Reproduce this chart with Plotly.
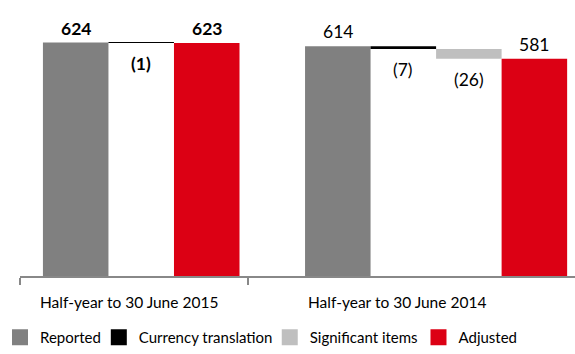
import plotly.graph_objects as go

# Waterfall bridges from reported to adjusted figures
periods = ["Half-year to 30 June 2015", "Half-year to 30 June 2014"]
steps_2015 = ["Reported", "Currency translation", "Adjusted"]
values_2015 = [624, -1, 623]
steps_2014 = ["Reported", "Currency translation", "Significant items", "Adjusted"]
values_2014 = [614, -7, -26, 581]

legend_items = ["Reported", "Currency translation", "Significant items", "Adjusted"]
colors = {
    "Reported": "#808080",
    "Currency translation": "#000000",
    "Significant items": "#bfbfbf",
    "Adjusted": "#dc0014",
}
totals = {"Reported", "Adjusted"}

FONT = "Lato, 'Open Sans', sans-serif"

# Slot layout: one column per step, an empty slot between the two periods
blocks = [(steps_2015, values_2015, True, 0), (steps_2014, values_2014, False, 4)]

bars = {k: {"x": [], "y": [], "base": []} for k in legend_items}
annotations = []
for steps, values, bold, start in blocks:
    running = 0
    for i, (step, val) in enumerate(zip(steps, values)):
        xpos = start + i
        if step in totals:
            base, height = 0, val
            running = val
            label = f"{val:,}"
            y_lab, anchor, shift = val, "bottom", 2
        else:
            base, height = running + val, -val
            running = running + val
            label = f"({-val:,})"
            y_lab, anchor, shift = base, "top", -8
        bars[step]["x"].append(xpos)
        bars[step]["y"].append(height)
        bars[step]["base"].append(base)
        txt = f"<b>{label}</b>" if bold else label
        annotations.append(dict(
            x=xpos, y=y_lab, xref="x", yref="y", text=txt, showarrow=False,
            yanchor=anchor, yshift=shift,
            font=dict(family=FONT, size=17.5, color="#000000"),
        ))

fig = go.Figure()
for step in legend_items:
    fig.add_trace(go.Bar(
        x=bars[step]["x"], y=bars[step]["y"], base=bars[step]["base"],
        width=1, marker=dict(color=colors[step], line=dict(width=0)),
        showlegend=False, hoverinfo="skip",
    ))

# One legend box per swatch so each entry sits at its own spot
legend_names = ["legend", "legend2", "legend3", "legend4"]
legend_x = [-0.036, 0.142, 0.45, 0.718]
legend_cfg = {}
for step, lname, lx in zip(legend_items, legend_names, legend_x):
    fig.add_trace(go.Scatter(
        x=[None], y=[None], mode="markers", name=step, legend=lname,
        marker=dict(symbol="square", size=16, color=colors[step]),
    ))
    legend_cfg[lname] = dict(
        orientation="h", x=lx, xanchor="left", y=-0.232, yanchor="middle",
        itemsizing="trace", font=dict(family=FONT, size=15, color="#000000"),
        itemclick=False, bgcolor="rgba(0,0,0,0)",
    )

# Period labels under the axis
for label, xc in zip(periods, [0.81, 4.9]):
    annotations.append(dict(
        x=xc, y=0, xref="x", yref="paper", text=label, showarrow=False,
        yanchor="middle", yshift=-26,
        font=dict(family=FONT, size=15.5, color="#000000"),
    ))

fig.update_layout(
    width=575, height=354,
    margin=dict(l=18, r=0, t=10, b=72),
    paper_bgcolor="white", plot_bgcolor="white",
    barmode="overlay",
    showlegend=True,
    annotations=annotations,
    xaxis=dict(
        range=[-0.85, 7.62], showgrid=False, zeroline=False,
        showline=True, linecolor="#888888", linewidth=1.5,
        tickmode="array", tickvals=[-0.849, 2.63], ticks="outside",
        ticklen=7, tickcolor="#888888", tickwidth=1.5, showticklabels=False,
        fixedrange=True,
    ),
    yaxis=dict(
        range=[0, 711], visible=False, showgrid=False, zeroline=False,
        fixedrange=True,
    ),
    **legend_cfg,
)

fig.write_html("out.html")
